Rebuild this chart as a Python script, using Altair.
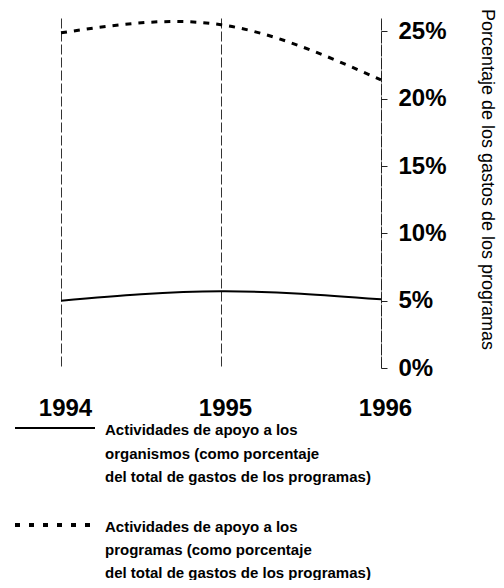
import altair as alt
import pandas as pd

years = [1994, 1995, 1996]
apoyo_organismos = [5.0, 5.7, 5.1]
apoyo_programas = [24.9, 25.5, 21.4]
series_names = ["organismos", "programas"]
legend_labels = [
    "Actividades de apoyo a los\norganismos (como porcentaje\ndel total de gastos de los programas)",
    "Actividades de apoyo a los\nprogramas (como porcentaje\ndel total de gastos de los programas)",
]
y_ticks = [0, 5, 10, 15, 20, 25]
y_title = "Porcentaje de los gastos de los programas"

df = pd.DataFrame({
    "year": years * 2,
    "value": apoyo_organismos + apoyo_programas,
    "serie": [series_names[0]] * 3 + [series_names[1]] * 3,
})

FONT = "Liberation Sans"

x = alt.X(
    "year:O",
    scale=alt.Scale(type="point", padding=0),
    axis=alt.Axis(title=None, domain=False, ticks=False, labelAngle=0,
                  grid=True, gridDash=[10, 3], gridColor="#333", gridWidth=1,
                  labelFontSize=24, labelFont=FONT, labelFontWeight="bold",
                  labelPadding=28, labelColor="black", labelFlush=False,
                  labelOverlap=False, labelOffset=4),
)
y = alt.Y(
    "value:Q",
    scale=alt.Scale(domain=[0, 26], nice=False),
    axis=alt.Axis(orient="right", values=y_ticks, labelExpr="datum.value + '%'",
                  grid=False, domainDash=[10, 3], domainColor="#222", tickColor="#222",
                  tickSize=6, labelPadding=11, labelFontSize=24, labelFont=FONT,
                  labelFontWeight="bold", labelColor="black", labelFlush=False,
                  labelOverlap=False,
                  title=y_title, titleAngle=90, titleX=105, titleY=161,
                  titleAlign="center", titleBaseline="middle", titleFontSize=18,
                  titleFontWeight="normal", titleFont=FONT, titleColor="black"),
)

base = alt.Chart(df)
solid = base.transform_filter(alt.datum.serie == series_names[0]).mark_line(
    interpolate="natural", color="black", strokeWidth=2).encode(x=x, y=y)
dashed = base.transform_filter(alt.datum.serie == series_names[1]).mark_line(
    interpolate="natural", color="black", strokeWidth=3, strokeDash=[6, 7]).encode(x=x, y=y)

leg_rule1 = alt.Chart(df).mark_rule(color="black", strokeWidth=2).encode(
    x=alt.value(-46), x2=alt.value(34), y=alt.value(410))
leg_rule2 = alt.Chart(df).mark_rule(color="black", strokeWidth=3, strokeDash=[5, 9]).encode(
    x=alt.value(-46), x2=alt.value(34), y=alt.value(507))

leg_text1 = alt.Chart(pd.DataFrame({"label": [legend_labels[0]]})).mark_text(
    align="left", baseline="top", lineBreak="\n", lineHeight=23.5, fontSize=15,
    fontWeight="bold", font=FONT, color="black").encode(
    text="label:N", x=alt.value(44), y=alt.value(405))
leg_text2 = alt.Chart(pd.DataFrame({"label": [legend_labels[1]]})).mark_text(
    align="left", baseline="top", lineBreak="\n", lineHeight=23, fontSize=15,
    fontWeight="bold", font=FONT, color="black").encode(
    text="label:N", x=alt.value(44), y=alt.value(502))

chart = alt.layer(solid, dashed, leg_rule1, leg_rule2, leg_text1, leg_text2).properties(
    width=320, height=350,
    padding={"left": 53, "top": 10, "right": 115, "bottom": 212},
    autosize=alt.AutoSizeParams(type="none"),
).configure_view(stroke=None)

chart.save("out.html", embed_options={"renderer": "svg", "actions": False})
